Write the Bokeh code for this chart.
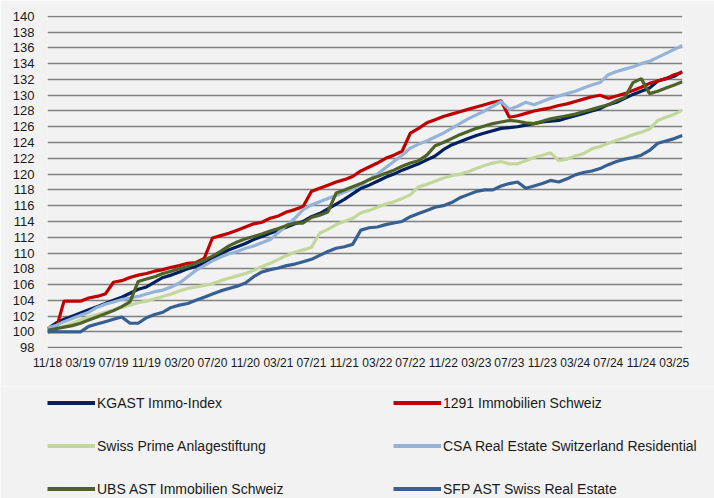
from bokeh.plotting import figure
from bokeh.models import FixedTicker, Legend, LegendItem, Range1d
from bokeh.layouts import column
from bokeh.embed import file_html
from bokeh.resources import INLINE

# month index 0 = 11/2018 ... 77 = 04/2025
MONTHS = list(range(78))
TICK_POS = list(range(0, 77, 4))
TICK_LABELS = ["11/18", "03/19", "07/19", "11/19", "03/20", "07/20", "11/20",
               "03/21", "07/21", "11/21", "03/22", "07/22", "11/22", "03/23",
               "07/23", "11/23", "03/24", "07/24", "11/24", "03/25"]
Y_TICKS = list(range(98, 141, 2))

KGAST = [100.4, 101.1, 101.6, 102.0, 102.4, 102.8, 103.2, 103.6, 104.0, 104.4,
         104.9, 105.4, 105.7, 106.3, 106.9, 107.2, 107.6, 108.0, 108.3, 108.7,
         109.3, 109.9, 110.4, 110.8, 111.2, 111.7, 112.1, 112.5, 112.9, 113.3,
         113.7, 114.0, 114.6, 115.0, 115.6, 116.2, 116.8, 117.5, 118.2, 118.6,
         119.1, 119.6, 120.0, 120.5, 120.9, 121.3, 121.8, 122.3, 123.1, 123.7,
         124.1, 124.5, 124.9, 125.2, 125.5, 125.8, 125.9, 126.0, 126.2, 126.4,
         126.6, 126.7, 126.8, 127.1, 127.4, 127.7, 128.0, 128.3, 128.8, 129.1,
         129.6, 130.1, 130.5, 130.9, 131.8, 132.1, 132.4, 133.0]

IMMO_1291 = [100.0, 100.2, 103.9, 103.9, 103.9, 104.3, 104.5, 104.8, 106.3, 106.5,
             106.9, 107.2, 107.4, 107.7, 107.9, 108.2, 108.4, 108.7, 108.8, 109.3,
             111.9, 112.2, 112.5, 112.9, 113.3, 113.7, 113.9, 114.4, 114.7, 115.2,
             115.5, 115.9, 117.8, 118.2, 118.6, 119.0, 119.3, 119.7, 120.4, 120.9,
             121.4, 122.0, 122.4, 122.9, 125.2, 125.8, 126.5, 126.9, 127.3, 127.6,
             127.9, 128.2, 128.5, 128.8, 129.1, 129.3, 127.2, 127.4, 127.7, 128.0,
             128.2, 128.4, 128.7, 128.9, 129.2, 129.5, 129.8, 130.0, 129.6, 129.9,
             130.2, 130.6, 131.0, 131.5, 131.8, 132.1, 132.6, 132.9]

SWISS_PRIME = [100.2, 100.4, 100.7, 101.1, 101.5, 101.9, 102.2, 102.5, 102.8, 103.1,
               103.4, 103.7, 103.9, 104.2, 104.5, 104.8, 105.2, 105.5, 105.7, 105.9,
               106.1, 106.5, 106.8, 107.1, 107.4, 107.8, 108.3, 108.7, 109.2, 109.7,
               110.1, 110.4, 110.7, 112.5, 113.0, 113.6, 114.0, 114.4, 115.1, 115.4,
               115.8, 116.2, 116.5, 116.9, 117.4, 118.4, 118.7, 119.1, 119.5, 119.8,
               120.0, 120.3, 120.7, 121.1, 121.4, 121.6, 121.3, 121.3, 121.7, 122.1,
               122.4, 122.7, 121.7, 121.9, 122.3, 122.6, 123.2, 123.5, 123.9, 124.3,
               124.6, 125.0, 125.3, 125.7, 126.8, 127.2, 127.6, 128.1]

CSA = [100.5, 100.8, 101.3, 101.7, 102.1, 102.5, 103.1, 103.5, 103.8, 104.1,
       104.3, 104.5, 104.8, 105.1, 105.3, 105.7, 106.2, 107.0, 107.8, 108.4,
       109.0, 109.5, 109.9, 110.2, 110.6, 110.9, 111.3, 111.7, 112.6, 113.5,
       114.4, 115.5, 116.1, 116.5, 116.9, 117.3, 117.7, 118.1, 118.6, 119.3,
       120.0, 120.8, 121.6, 122.4, 123.3, 123.8, 124.2, 124.7, 125.2, 125.8,
       126.4, 127.0, 127.5, 128.0, 128.6, 129.2, 128.2, 128.6, 129.1, 128.8,
       129.2, 129.6, 129.9, 130.2, 130.5, 130.9, 131.3, 131.6, 132.6, 133.0,
       133.3, 133.6, 134.0, 134.3, 134.8, 135.3, 135.8, 136.3]

UBS = [100.2, 100.4, 100.6, 100.8, 101.1, 101.5, 101.9, 102.3, 102.7, 103.2,
       103.8, 106.4, 106.7, 107.0, 107.4, 107.7, 108.0, 108.3, 108.7, 109.1,
       109.6, 110.2, 110.9, 111.4, 111.8, 112.1, 112.4, 112.8, 113.1, 113.5,
       113.8, 113.8, 114.5, 114.8, 115.2, 117.6, 118.0, 118.4, 118.8, 119.3,
       119.7, 120.1, 120.5, 121.0, 121.4, 121.7, 122.4, 123.6, 124.0, 124.5,
       125.0, 125.4, 125.8, 126.1, 126.4, 126.6, 126.8, 126.7, 126.5, 126.4,
       126.7, 127.0, 127.2, 127.4, 127.6, 127.9, 128.2, 128.5, 128.8, 129.3,
       129.7, 131.6, 132.1, 130.2, 130.5, 130.9, 131.3, 131.7]

SFP = [100.0, 100.0, 100.0, 100.0, 100.0, 100.7, 101.0, 101.3, 101.6, 101.9,
       101.1, 101.1, 101.8, 102.2, 102.5, 103.1, 103.4, 103.6, 104.0, 104.4,
       104.8, 105.2, 105.5, 105.8, 106.2, 107.0, 107.6, 107.9, 108.1, 108.4,
       108.6, 108.9, 109.2, 109.7, 110.2, 110.6, 110.8, 111.1, 112.9, 113.2,
       113.3, 113.6, 113.8, 114.0, 114.6, 115.0, 115.4, 115.8, 116.0, 116.4,
       117.0, 117.4, 117.8, 118.0, 118.0, 118.5, 118.8, 119.0, 118.2, 118.5,
       118.8, 119.2, 119.0, 119.4, 119.9, 120.2, 120.4, 120.7, 121.2, 121.6,
       121.9, 122.1, 122.4, 123.0, 123.9, 124.2, 124.5, 124.9]

SERIES = [
    ("KGAST Immo-Index", KGAST, "#002060"),
    ("1291 Immobilien Schweiz", IMMO_1291, "#C00000"),
    ("Swiss Prime Anlagestiftung", SWISS_PRIME, "#C4D79B"),
    ("CSA Real Estate Switzerland Residential", CSA, "#95B3D7"),
    ("UBS AST Immobilien Schweiz", UBS, "#4F6228"),
    ("SFP AST Swiss Real Estate", SFP, "#376092"),
]

BG = "#F2F2F2"
FONT = "Liberation Sans"
TXT = "#1A1A1A"
LW = 3.2

p = figure(width=714, height=386, output_backend="svg", toolbar_location=None,
           x_range=Range1d(0, 77), y_range=Range1d(97.9, 140.1),
           min_border_left=47, min_border_right=32, min_border_top=15,
           min_border_bottom=38)
p.frame_align = False
p.background_fill_color = BG
p.border_fill_color = BG
p.outline_line_color = None

p.xaxis.ticker = FixedTicker(ticks=TICK_POS)
p.xaxis.major_label_overrides = {t: l for t, l in zip(TICK_POS, TICK_LABELS)}
p.yaxis.ticker = FixedTicker(ticks=Y_TICKS)
for ax in (p.xaxis, p.yaxis):
    ax.axis_line_color = None
    ax.major_tick_line_color = None
    ax.minor_tick_line_color = None
    ax.major_tick_out = 0
    ax.major_tick_in = 0
    ax.minor_tick_out = 0
    ax.minor_tick_in = 0
    ax.major_label_text_font = FONT
    ax.major_label_text_color = TXT
p.xaxis.major_label_text_font_size = "12px"
p.yaxis.major_label_text_font_size = "13px"
p.xaxis.major_label_standoff = 7
p.yaxis.major_label_standoff = 13

p.xgrid.visible = False
p.ygrid.ticker = FixedTicker(ticks=Y_TICKS)
p.ygrid.grid_line_color = "#808080"
p.ygrid.grid_line_width = 1.5

for name, vals, col in SERIES:
    p.line(MONTHS, vals, line_color=col, line_width=LW)

# legend panel below the chart (its ranges keep the series themselves out of view)
lg = figure(width=714, height=112, output_backend="svg", toolbar_location=None,
            x_range=Range1d(0, 1), y_range=Range1d(0, 1),
            x_axis_type=None, y_axis_type=None,
            min_border_left=0, min_border_right=0, min_border_top=0,
            min_border_bottom=0)
lg.frame_align = False
lg.background_fill_color = BG
lg.border_fill_color = BG
lg.outline_line_color = None
lg.xgrid.visible = False
lg.ygrid.visible = False

swatch = {}
for name, vals, col in SERIES:
    swatch[name] = lg.line(MONTHS, vals, line_color=col, line_width=LW + 0.8)


def make_legend(names, x):
    return Legend(items=[LegendItem(label=n, renderers=[swatch[n]]) for n in names],
                  location=(x, 1), orientation="vertical",
                  glyph_width=48, glyph_height=17, label_height=17,
                  label_standoff=2, spacing=26, padding=0, margin=0,
                  border_line_color=None, background_fill_alpha=0,
                  label_text_font=FONT, label_text_font_size="14px",
                  label_text_color=TXT)


lg.add_layout(make_legend([SERIES[0][0], SERIES[2][0], SERIES[4][0]], 47))
lg.add_layout(make_legend([SERIES[1][0], SERIES[3][0], SERIES[5][0]], 393))

open("out.html", "w").write(file_html(column(p, lg, spacing=0), INLINE))
